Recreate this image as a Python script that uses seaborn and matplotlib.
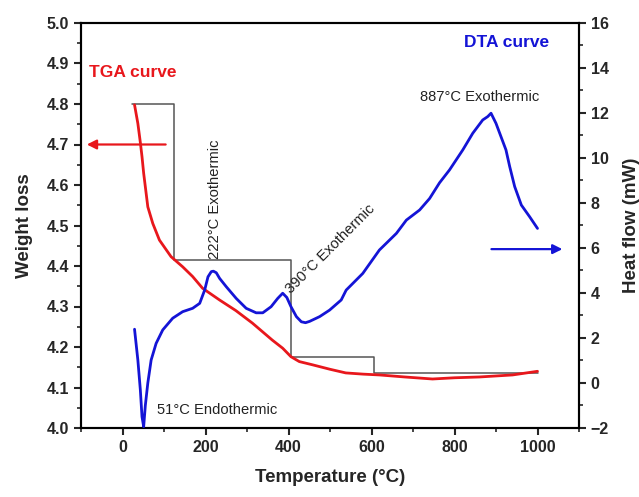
import numpy as np
import pandas as pd
import matplotlib
matplotlib.use("Agg")
import matplotlib.pyplot as plt
import seaborn as sns

# ---------------- data ----------------
tga_temp = [29, 37, 43, 47, 51, 61, 73, 89, 117, 145, 169, 193, 234, 273, 313, 361,
            386, 406, 426, 458, 500, 538, 580, 619, 680, 747, 800, 860, 940, 1000]
tga_weight = [4.798, 4.752, 4.705, 4.670, 4.629, 4.546, 4.505, 4.464, 4.423, 4.398,
              4.374, 4.345, 4.316, 4.290, 4.259, 4.217, 4.197, 4.176, 4.164, 4.156,
              4.145, 4.136, 4.133, 4.131, 4.126, 4.121, 4.124, 4.126, 4.131, 4.140]

dta_temp = [29, 37, 43, 47, 51, 55, 61, 69, 81, 97, 121, 145, 169, 186, 198, 206,
            214, 219, 226, 234, 250, 274, 298, 322, 338, 358, 374, 386, 396, 406,
            419, 431, 441, 451, 475, 499, 527, 539, 579, 619, 660, 684, 716, 740,
            764, 788, 820, 844, 868, 880, 888, 900, 912, 924, 933, 945, 961, 981, 1000]
dta_heat = [2.39, 1.02, -0.31, -1.50, -1.94, -1.00, 0.00, 1.02, 1.76, 2.36, 2.88,
            3.17, 3.32, 3.54, 4.13, 4.72, 4.95, 4.97, 4.90, 4.65, 4.28, 3.76, 3.32,
            3.12, 3.12, 3.39, 3.76, 3.99, 3.80, 3.39, 2.95, 2.72, 2.68, 2.74, 2.95,
            3.24, 3.69, 4.13, 4.87, 5.91, 6.65, 7.24, 7.69, 8.20, 8.90, 9.47, 10.36,
            11.10, 11.69, 11.84, 11.99, 11.54, 10.95, 10.36, 9.62, 8.73, 7.91, 7.39, 6.87]

step_temp = [22, 125, 125, 405, 405, 607, 607, 1000]
step_weight = [4.800, 4.800, 4.415, 4.415, 4.175, 4.175, 4.135, 4.135]

x_ticks = [0, 200, 400, 600, 800, 1000]
left_ticks = [4.0, 4.1, 4.2, 4.3, 4.4, 4.5, 4.6, 4.7, 4.8, 4.9, 5.0]
right_ticks = [-2, 0, 2, 4, 6, 8, 10, 12, 14, 16]

# ---------------- style ----------------
sns.set_style("ticks")
plt.rcParams['font.family'] = ['Liberation Sans', 'DejaVu Sans']
plt.rcParams['axes.linewidth'] = 1.5

RED = '#e8171c'
BLUE = '#1414d6'

fig = plt.figure(figsize=(6.39, 4.97), dpi=100)
ax1 = fig.add_axes([81/639, 1-428/497, (579-81)/639, (428-23)/497])
ax2 = ax1.twinx()

tga = pd.DataFrame({'Temperature': tga_temp, 'Weight': tga_weight})
dta = pd.DataFrame({'Temperature': dta_temp, 'Heat': dta_heat})
steps = pd.DataFrame({'Temperature': step_temp, 'Weight': step_weight})

ax1.plot(steps['Temperature'], steps['Weight'], color='#555555', lw=1.1, zorder=1)
sns.lineplot(data=tga, x='Temperature', y='Weight', ax=ax1, color=RED, lw=2,
             sort=False, estimator=None, zorder=3)
sns.lineplot(data=dta, x='Temperature', y='Heat', ax=ax2, color=BLUE, lw=2,
             sort=False, estimator=None, zorder=3)

ax1.set_xlim(-100, 1100)
ax1.set_ylim(4.0, 5.0)
ax2.set_ylim(-2, 16)

ax1.set_xticks(x_ticks)
ax1.set_xticks(np.arange(-100, 1101, 100), minor=True)
ax1.set_yticks(left_ticks)
ax1.set_yticklabels([f"{v:.1f}" for v in left_ticks])
ax1.set_yticks(np.arange(4.0, 5.001, 0.05), minor=True)
ax2.set_yticks(right_ticks)
ax2.set_yticks(np.arange(-2, 16.01, 1), minor=True)

for ax in (ax1, ax2):
    ax.tick_params(which='major', direction='out', length=5, width=1.5,
                   labelsize=11.5)
    ax.tick_params(which='minor', direction='out', length=3, width=1.2)
    for lab in ax.get_xticklabels() + ax.get_yticklabels():
        lab.set_fontweight('bold')
    for sp in ax.spines.values():
        sp.set_visible(True)
        sp.set_linewidth(1.5)
        sp.set_color('black')
ax1.tick_params(top=False, which='both')

ax1.set_xlabel('Temperature (°C)', fontsize=13.5, fontweight='bold', labelpad=10)
ax1.set_ylabel('Weight loss', fontsize=13.5, fontweight='bold', labelpad=10)
ax2.set_ylabel('Heat flow (mW)', fontsize=13.5, fontweight='bold', labelpad=10)

# ---------------- annotations ----------------
ax1.text(-80, 4.877, 'TGA curve', color=RED, fontsize=12.5, fontweight='bold',
         ha='left', va='center')
ax1.text(824, 4.953, 'DTA curve', color=BLUE, fontsize=12.5, fontweight='bold',
         ha='left', va='center')
ann = dict(fontsize=10.6, color='#222222')
ax1.text(860, 4.817, '887°C Exothermic', ha='center', va='center', **ann)
ax1.text(82, 4.044, '51°C Endothermic', ha='left', va='center', **ann)
ax1.text(222, 4.418, '222°C Exothermic', rotation=90, ha='center', va='bottom', **ann)
ax1.text(412, 4.326, '390°C Exothermic', rotation=45, rotation_mode='anchor',
         ha='left', va='bottom', **ann)

ax1.annotate('', xy=(-86, 4.7), xytext=(104, 4.7),
             arrowprops=dict(arrowstyle='-|>', color=RED, lw=1.6,
                             mutation_scale=14, shrinkA=0, shrinkB=0))
ax2.annotate('', xy=(1060, 5.95), xytext=(889, 5.95),
             arrowprops=dict(arrowstyle='-|>', color=BLUE, lw=1.6,
                             mutation_scale=14, shrinkA=0, shrinkB=0))

fig.savefig('out.png', dpi=100)
